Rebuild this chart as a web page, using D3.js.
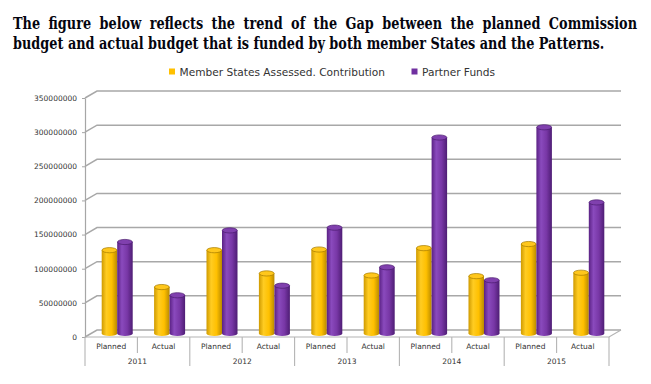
<!DOCTYPE html>
<html>
<head>
<meta charset="utf-8">
<script src="https://cdn.jsdelivr.net/npm/d3@7"></script>
<style>
  body { margin: 0; background: #fff; }
  text { font-family: "DejaVu Sans", sans-serif; }
</style>
</head>
<body>
<script>
// chart data
var years = ["2011", "2012", "2013", "2014", "2015"];
var phases = ["Planned", "Actual"];
var seriesNames = ["Member States Assessed. Contribution", "Partner Funds"];
var memberStates = [122e6, 68e6, 122e6, 88e6, 123e6, 85e6, 125e6, 84e6, 131e6, 89e6];
var partnerFunds = [134e6, 56e6, 151e6, 70e6, 155e6, 97e6, 287e6, 78e6, 302e6, 192e6];
var yTicks = [0, 50e6, 100e6, 150e6, 200e6, 250e6, 300e6, 350e6];
var titleLines = [
  "The figure below reflects the trend of the Gap between the planned Commission",
  "budget and actual budget that is funded by both member States and the Patterns."
];

var width = 651, height = 384;
var depthX = 12, depthY = -7;   // oblique offset of the back wall
var barW = 15.5;

var svg = d3.select("body").append("svg")
  .attr("width", width).attr("height", height);

var cats = [];
years.forEach(function (yr) {
  phases.forEach(function (ph) { cats.push(yr + "|" + ph); });
});

var x = d3.scaleBand().domain(cats).range([85, 609]);
var xYear = d3.scaleBand().domain(years).range([85, 609]);
var y = d3.scaleLinear().domain([0, 350e6]).range([337, 98]);

// gradients for the cylinders
var defs = svg.append("defs");
function grad(id, stops) {
  var g = defs.append("linearGradient").attr("id", id)
    .attr("x1", "0%").attr("x2", "100%").attr("y1", "0%").attr("y2", "0%");
  stops.forEach(function (s) {
    g.append("stop").attr("offset", s[0]).attr("stop-color", s[1]);
  });
}
grad("gYel", [[0, "#cf9a00"], [0.3, "#ffcc22"], [0.65, "#ffc000"], [1, "#b98a00"]]);
grad("gPur", [[0, "#5a2184"], [0.3, "#8a4abd"], [0.65, "#7837a6"], [1, "#4e1d74"]]);

var series = [
  { name: seriesNames[0], values: memberStates, fill: "url(#gYel)", top: "#ffc71c", edge: "#a47a00", key: "#ffc000" },
  { name: seriesNames[1], values: partnerFunds, fill: "url(#gPur)", top: "#8040ae", edge: "#4a1b6e", key: "#7030a0" }
];

// title: bold serif, first line justified
var title = svg.append("g");
var tl = titleLines.map(function (t, i) {
  return title.append("text")
    .attr("x", 0).attr("y", 29 + i * 20)
    .style("font-family", "'DejaVu Serif', serif")
    .style("font-weight", "bold")
    .style("font-size", "16px")
    .attr("fill", "#05050f")
    .text(t);
});
var sx = 592 / tl[1].node().getComputedTextLength();
title.attr("transform", "translate(13,0) scale(" + sx + ",1)");
var spaces = titleLines[0].split(" ").length - 1;
var extra = (624 / sx - tl[0].node().getComputedTextLength()) / spaces;
tl[0].style("word-spacing", extra + "px");

// legend
var legend = svg.append("g");
var legendX = [169, 411.5];
series.forEach(function (s, i) {
  legend.append("rect").attr("x", legendX[i]).attr("y", 68.5)
    .attr("width", 6).attr("height", 6).attr("fill", s.key);
  legend.append("text").attr("x", legendX[i] + 10.5).attr("y", 75.5)
    .style("font-size", "10.6px").attr("fill", "#333").text(s.name);
});

// back wall gridlines with the slanted side-wall segment
var grid = svg.append("g").attr("stroke", "#a8a8a8").attr("stroke-width", 1.5).attr("fill", "none");
yTicks.forEach(function (t) {
  grid.append("path")
    .attr("d", "M85," + y(t) + "L" + (85 + depthX) + "," + (y(t) + depthY) +
      "L" + (609 + depthX) + "," + (y(t) + depthY));
});

// floor
svg.append("path")
  .attr("d", "M85,337L609,337L" + (609 + depthX) + "," + (337 + depthY))
  .attr("fill", "none").attr("stroke", "#b4b4b4").attr("stroke-width", 1.2);

// bars as cylinders, mid depth
var bars = svg.append("g");
var baseY = y(0) + depthY / 2;
series.forEach(function (s, si) {
  var g = bars.append("g");
  var d = s.values.map(function (v, i) { return { cat: cats[i], v: v }; });
  function bx(dd) { return x(dd.cat) + x.bandwidth() / 2 + depthX / 2 - barW + si * barW; }
  function top(dd) { return y(dd.v) + depthY / 2; }
  g.selectAll(".bottom").data(d).enter().append("ellipse")
    .attr("cx", function (dd) { return bx(dd) + barW / 2; })
    .attr("cy", baseY).attr("rx", barW / 2).attr("ry", 2.6)
    .attr("fill", s.fill);
  g.selectAll(".body").data(d).enter().append("rect")
    .attr("x", bx).attr("y", top).attr("width", barW)
    .attr("height", function (dd) { return baseY - top(dd); })
    .attr("fill", s.fill);
  g.selectAll(".cap").data(d).enter().append("ellipse")
    .attr("cx", function (dd) { return bx(dd) + barW / 2; })
    .attr("cy", top).attr("rx", barW / 2 - 0.3).attr("ry", 2.6)
    .attr("fill", s.top).attr("stroke", s.edge).attr("stroke-width", 0.7);
});

// y axis
var yAxis = svg.append("g").attr("transform", "translate(85,0)")
  .call(d3.axisLeft(y).tickValues(yTicks).tickFormat(d3.format("d")).tickSize(3).tickSizeOuter(0));
yAxis.select(".domain").attr("stroke", "#a6a6a6").attr("stroke-width", 1.2);
yAxis.selectAll(".tick line").attr("stroke", "#a6a6a6");
yAxis.selectAll(".tick text").attr("x", -8).attr("fill", "#333")
  .style("font-size", "7.5px").style("font-family", "'DejaVu Sans', sans-serif");

// category table below the floor
var cat = svg.append("g").attr("stroke", "#b4b4b4").attr("stroke-width", 1.1);
cats.forEach(function (c, i) {
  var xx = x(c);
  var long = i % 2 === 0;
  cat.append("line").attr("x1", xx).attr("x2", xx)
    .attr("y1", 337).attr("y2", long ? 366 : 353);
});
cat.append("line").attr("x1", 609).attr("x2", 609).attr("y1", 337).attr("y2", 366);

svg.append("g").selectAll("text").data(cats).enter().append("text")
  .attr("x", function (c) { return x(c) + x.bandwidth() / 2; })
  .attr("y", 349)
  .attr("text-anchor", "middle").attr("fill", "#333")
  .style("font-size", "7.5px").style("font-family", "'DejaVu Sans', sans-serif")
  .text(function (c) { return c.split("|")[1]; });

svg.append("g").selectAll("text").data(years).enter().append("text")
  .attr("x", function (yr) { return xYear(yr) + xYear.bandwidth() / 2; })
  .attr("y", 363.5)
  .attr("text-anchor", "middle").attr("fill", "#333")
  .style("font-size", "7.5px").style("font-family", "'DejaVu Sans', sans-serif")
  .text(function (yr) { return yr; });
</script>
</body>
</html>
